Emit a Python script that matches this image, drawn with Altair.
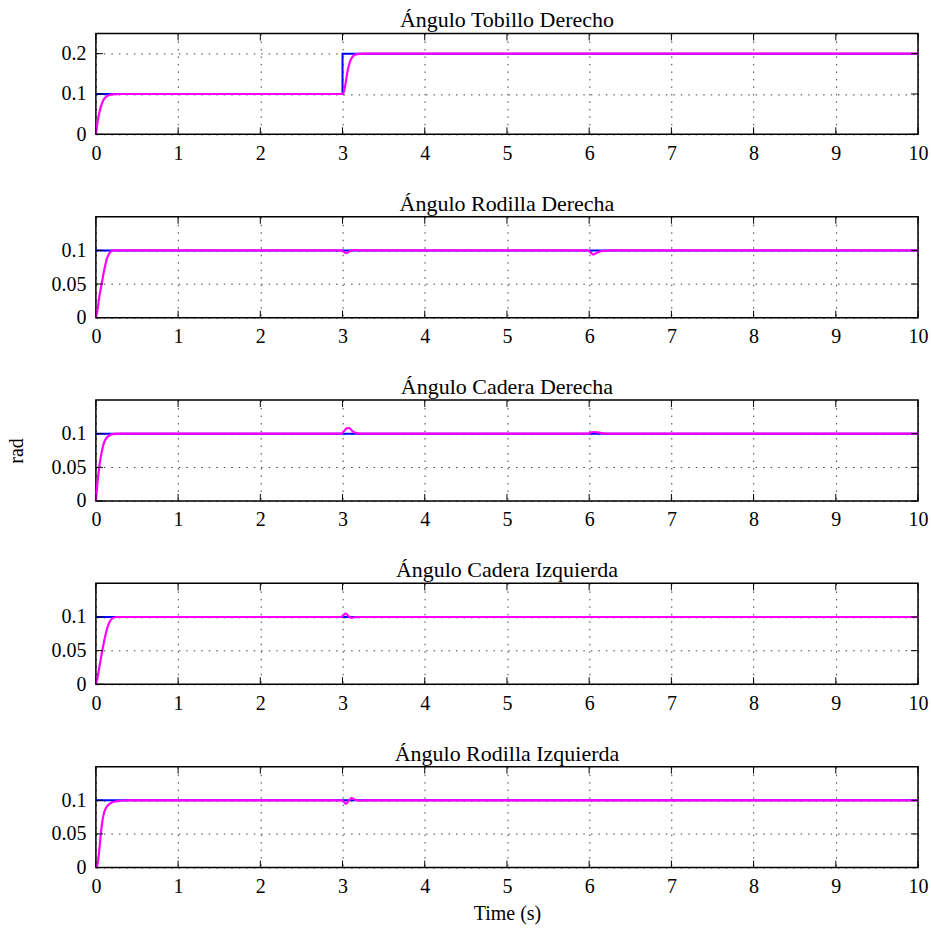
import altair as alt
import pandas as pd

FONT = "Liberation Serif"
FS = 20
TFS = 22
W, H = 823, 101

titles = [
    "Ángulo Tobillo Derecho",
    "Ángulo Rodilla Derecha",
    "Ángulo Cadera Derecha",
    "Ángulo Cadera Izquierda",
    "Ángulo Rodilla Izquierda",
]

x_ticks = [0, 1, 2, 3, 4, 5, 6, 7, 8, 9, 10]
y_domains = [[0, 0.25], [0, 0.15], [0, 0.15], [0, 0.15], [0, 0.15]]
y_ticks = [[0, 0.1, 0.2], [0, 0.05, 0.1], [0, 0.05, 0.1], [0, 0.05, 0.1], [0, 0.05, 0.1]]

# reference (blue)
ref_t = [[0, 3, 3, 10], [0, 10], [0, 10], [0, 10], [0, 10]]
ref_v = [[0.1, 0.1, 0.2, 0.2], [0.1, 0.1], [0.1, 0.1], [0.1, 0.1], [0.1, 0.1]]

# response (magenta)
out_t1 = [0, 0.02, 0.04, 0.06, 0.08, 0.1, 0.13, 0.16, 0.2, 0.3,
          3.0, 3.02, 3.04, 3.06, 3.08, 3.1, 3.13, 3.16, 3.2, 3.3, 10]
out_v1 = [0, 0.03, 0.052, 0.068, 0.08, 0.088, 0.094, 0.097, 0.0993, 0.1,
          0.1, 0.108, 0.13, 0.155, 0.173, 0.185, 0.194, 0.198, 0.1995, 0.2, 0.2]

out_t2 = [0, 0.02, 0.04, 0.07, 0.1, 0.13, 0.16, 0.19, 0.22, 0.3,
          2.98, 3.02, 3.05, 3.09, 3.13, 3.17, 3.25,
          5.98, 6.02, 6.05, 6.09, 6.14, 6.2, 6.3, 10]
out_v2 = [0, 0.012, 0.03, 0.05, 0.07, 0.086, 0.095, 0.099, 0.1, 0.1,
          0.1, 0.0975, 0.096, 0.099, 0.1006, 0.1003, 0.1,
          0.1, 0.0965, 0.0937, 0.0962, 0.0988, 0.0998, 0.1, 0.1]

out_t3 = [0, 0.02, 0.04, 0.06, 0.08, 0.1, 0.13, 0.16, 0.2, 0.3,
          2.98, 3.02, 3.05, 3.08, 3.12, 3.17, 3.25,
          5.98, 6.03, 6.07, 6.15, 6.25, 10]
out_v3 = [0, 0.028, 0.05, 0.066, 0.078, 0.087, 0.094, 0.097, 0.0993, 0.1,
          0.1, 0.104, 0.108, 0.1085, 0.104, 0.1008, 0.1,
          0.1, 0.1022, 0.1025, 0.1008, 0.1, 0.1]

out_t4 = [0, 0.02, 0.04, 0.07, 0.1, 0.13, 0.16, 0.2, 0.25, 0.35,
          2.98, 3.01, 3.04, 3.07, 3.11, 3.15, 3.22, 10]
out_v4 = [0, 0.01, 0.024, 0.045, 0.064, 0.08, 0.091, 0.098, 0.1, 0.1,
          0.1, 0.1025, 0.1052, 0.1015, 0.0988, 0.0997, 0.1, 0.1]

out_t5 = [0, 0.02, 0.04, 0.06, 0.08, 0.1, 0.13, 0.16, 0.2, 0.25, 0.3, 0.4,
          2.99, 3.02, 3.04, 3.07, 3.11, 3.16, 3.22, 3.3, 10]
out_v5 = [0, 0.005, 0.025, 0.05, 0.07, 0.082, 0.09, 0.094, 0.097, 0.0985, 0.0993, 0.1,
          0.1, 0.0975, 0.0948, 0.0985, 0.1032, 0.1005, 0.0996, 0.1, 0.1]

out_t = [out_t1, out_t2, out_t3, out_t4, out_t5]
out_v = [out_v1, out_v2, out_v3, out_v4, out_v5]

BLUE = "#0000ff"
MAGENTA = "#ff00ff"
TICK = 7


def panel(i):
    last = i == len(titles) - 1
    xs = alt.Scale(domain=[0, 10], nice=False, zero=False)
    ys = alt.Scale(domain=y_domains[i], nice=False, zero=False)

    xaxis = alt.Axis(
        values=x_ticks, grid=True, ticks=False, tickSize=0, domain=False,
        labelFont=FONT, labelFontSize=FS, labelColor="black", labelPadding=9,
        labelFlush=False, format="d",
        title="Time (s)" if last else None,
        titleFont=FONT, titleFontSize=FS, titleFontWeight="normal",
        titleColor="black", titlePadding=7,
    )
    yaxis = alt.Axis(
        values=y_ticks[i], grid=True, ticks=False, tickSize=0, domain=False,
        labelFont=FONT, labelFontSize=FS, labelColor="black", labelPadding=10,
        labelFlush=False, format="~g",
        title="rad" if i == 2 else None,
        titleFont=FONT, titleFontSize=FS, titleFontWeight="normal",
        titleColor="black", titlePadding=24,
    )

    ref_df = pd.DataFrame({"t": ref_t[i], "v": ref_v[i], "k": list(range(len(ref_t[i])))})
    out_df = pd.DataFrame({"t": out_t[i], "v": out_v[i], "k": list(range(len(out_t[i])))})
    xt_df = pd.DataFrame({"t": x_ticks})
    yt_df = pd.DataFrame({"v": y_ticks[i]})
    title_df = pd.DataFrame({"title": [titles[i]]})

    X = alt.X("t:Q", scale=xs, axis=xaxis)
    Y = alt.Y("v:Q", scale=ys, axis=yaxis)

    ref = alt.Chart(ref_df).mark_line(color=BLUE, strokeWidth=2).encode(
        x=X, y=Y, order="k:Q",
    )
    out = alt.Chart(out_df).mark_line(color=MAGENTA, strokeWidth=2.2, interpolate="monotone").encode(
        x=X, y=Y, order="k:Q",
    )
    top_ticks = alt.Chart(xt_df).mark_rule(color="black", strokeWidth=1).encode(
        x=X, y=alt.value(0), y2=alt.value(TICK))
    bot_ticks = alt.Chart(xt_df).mark_rule(color="black", strokeWidth=1).encode(
        x=X, y=alt.value(H - TICK), y2=alt.value(H))
    left_ticks = alt.Chart(yt_df).mark_rule(color="black", strokeWidth=1).encode(
        y=Y, x=alt.value(0), x2=alt.value(TICK))
    right_ticks = alt.Chart(yt_df).mark_rule(color="black", strokeWidth=1).encode(
        y=Y, x=alt.value(W - TICK), x2=alt.value(W))
    title_txt = alt.Chart(title_df).mark_text(
        font=FONT, fontSize=TFS, color="black", align="center", baseline="alphabetic",
    ).encode(
        text="title:N", x=alt.value(W / 2), y=alt.value(-6),
    )

    return alt.layer(ref, out, top_ticks, bot_ticks, left_ticks, right_ticks, title_txt).properties(
        width=W, height=H,
    )


chart = alt.vconcat(*[panel(i) for i in range(len(titles))], spacing=82.5, bounds="flush").properties(
    padding={"left": 6, "top": 8, "right": 2, "bottom": 4},
    background="white",
).configure_view(
    stroke="black", strokeWidth=1.5,
).configure_axis(
    gridColor="black", gridDash=[1.5, 6], gridOpacity=0.75, gridWidth=1,
)

chart.save("out.html", embed_options={"renderer": "svg", "actions": False})
